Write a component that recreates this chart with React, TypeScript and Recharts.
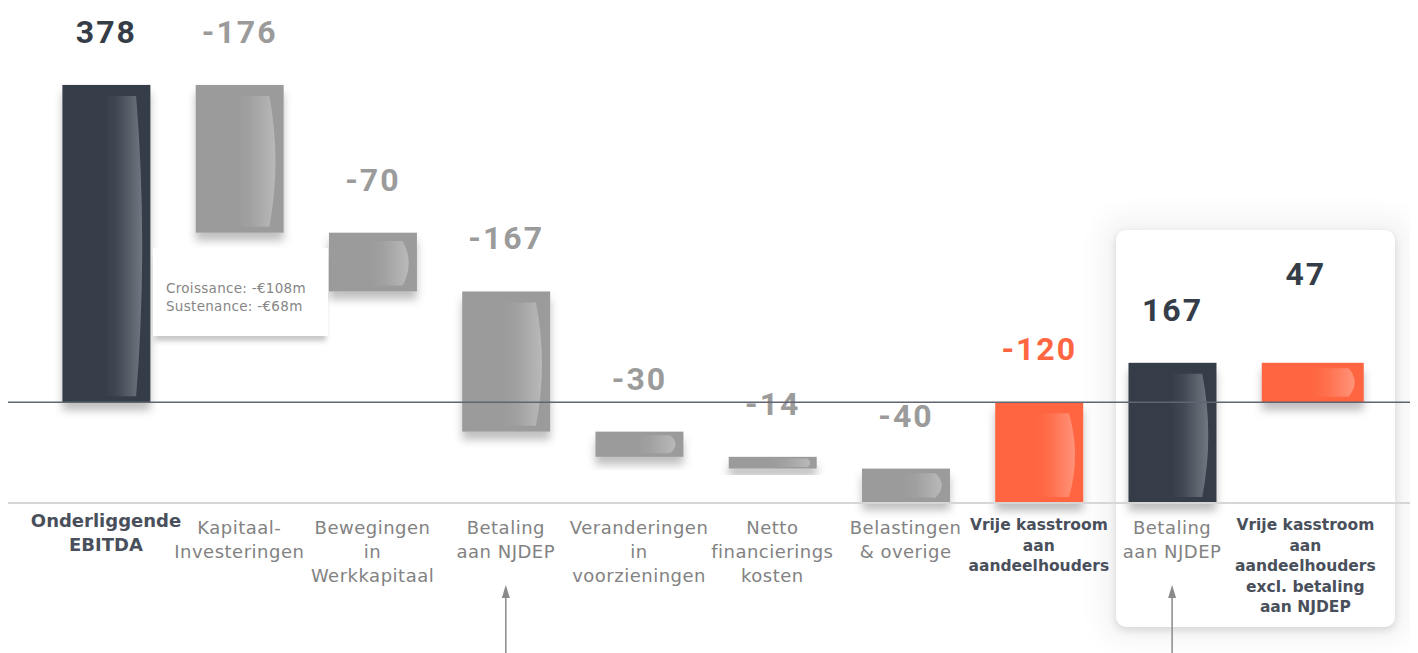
import { Bar, BarChart, ReferenceLine, XAxis, YAxis } from "recharts";

const categories = [
  "Onderliggende EBITDA",
  "Kapitaal-Investeringen",
  "Bewegingen in Werkkapitaal",
  "Betaling aan NJDEP",
  "Veranderingen in voorzieningen",
  "Netto financierings kosten",
  "Belastingen & overige",
  "Vrije kasstroom aan aandeelhouders",
  "Betaling aan NJDEP ",
  "Vrije kasstroom aan aandeelhouders excl. betaling aan NJDEP",
];

const categoryLines = [
  ["Onderliggende", "EBITDA"],
  ["Kapitaal-", "Investeringen"],
  ["Bewegingen", "in", "Werkkapitaal"],
  ["Betaling", "aan NJDEP"],
  ["Veranderingen", "in", "voorzieningen"],
  ["Netto", "financierings", "kosten"],
  ["Belastingen", "& overige"],
  ["Vrije kasstroom", "aan", "aandeelhouders"],
  ["Betaling", "aan NJDEP"],
  ["Vrije kasstroom", "aan", "aandeelhouders", "excl. betaling", "aan NJDEP"],
];

// in € m
const values = [378, -176, -70, -167, -30, -14, -40, -120, 167, 47];
const isTotal = [true, false, false, false, false, false, false, true, false, true];

const capexSplit = ["Croissance: -€108m", "Sustenance: -€68m"];
const arrowAt = [3, 8];

const DARK = "#353d48";
const GREY = "#9b9b9b";
const ORANGE = "#ff6540";
const barFill = [DARK, GREY, GREY, GREY, GREY, GREY, GREY, ORANGE, DARK, ORANGE];
const labelFill = [DARK, GREY, GREY, GREY, GREY, GREY, GREY, ORANGE, DARK, DARK];
const SANS = "'DejaVu Sans', sans-serif";

let running = 0;
const data = categories.map((name, i) => {
  const v = values[i];
  let range: [number, number];
  if (isTotal[i]) {
    range = [Math.min(0, v), Math.max(0, v)];
    running = v;
  } else {
    const next = running + v;
    range = [Math.min(running, next), Math.max(running, next)];
    running = next;
  }
  return { name, value: v, range };
});

function WaterfallBar(props: any) {
  const { x, y, width, height, index } = props;
  const top = Math.min(y, y + height);
  const h = Math.abs(height);
  const w = index === 9 ? width + 14 : width;
  const tIn = Math.min(11, h * 0.14);
  const bIn = Math.min(6, h * 0.14);
  const x0 = x + w * 0.47;
  const x1 = x + w * 0.94;
  const t = top + tIn;
  const b = top + h - bIn;
  const bow = Math.min(9, (b - t) * 0.45);
  const shine = `M ${x0} ${t} L ${x1 - bow} ${t} Q ${x1 + bow * 0.35} ${(t + b) / 2} ${x1 - bow} ${b} L ${x0} ${b} Z`;
  return (
    <g>
      <rect x={x} y={top} width={w} height={h} fill={barFill[index]} filter="url(#barShadow)" />
      {h > 4 && <path d={shine} fill="url(#barShine)" />}
      <text
        x={x + width / 2}
        y={top - (index === 9 ? 89 : 53)}
        textAnchor="middle"
        dominantBaseline="central"
        fontFamily="Roboto, sans-serif"
        fontWeight={700}
        fontSize={32}
        letterSpacing={2}
        fill={labelFill[index]}
      >
        {values[index]}
      </text>
    </g>
  );
}

function CategoryTick(props: any) {
  const { x, y, payload } = props;
  const i = payload.index;
  const lines = categoryLines[i];
  const bold = isTotal[i];
  const size = i === 0 ? 18 : bold ? 15.5 : 18;
  const gap = i === 0 ? 24 : bold ? 20.5 : 24;
  const first = i === 0 ? 17 : bold ? 22 : 24;
  return (
    <g>
      {lines.map((line, k) => (
        <text
          key={k}
          x={x}
          y={y + first + k * gap}
          textAnchor="middle"
          dominantBaseline="central"
          fontFamily={SANS}
          fontWeight={bold ? 700 : 400}
          fontSize={size}
          letterSpacing={bold ? 0 : 0.5}
          fill={bold ? "#4a505b" : "#828282"}
        >
          {line}
        </text>
      ))}
      {arrowAt.includes(i) && (
        <g>
          <line x1={x} x2={x} y1={y + 90} y2={y + 155} stroke="#8a8a8a" strokeWidth={1.5} />
          <path d={`M ${x} ${y + 82} L ${x - 4} ${y + 95} L ${x + 4} ${y + 95} Z`} fill="#8a8a8a" />
        </g>
      )}
    </g>
  );
}

export default function App() {
  return (
    <div
      style={{
        position: "relative",
        width: 1410,
        height: 645,
        overflow: "hidden",
        fontFamily: SANS,
      }}
    >
      <div
        style={{
          position: "absolute",
          left: 1108,
          top: 222,
          width: 279,
          height: 397,
          borderRadius: 10,
          background: "#fff",
          boxShadow: "0 3px 8px rgba(0,0,0,0.14), 0 0 26px 16px rgba(0,0,0,0.045)",
        }}
      />
      <BarChart
        width={1410}
        height={645}
        data={data}
        margin={{ top: 16.5, right: 46, bottom: 0, left: 31.4 }}
        barSize={88}
      >
        <defs>
          <filter id="barShadow" x="-20%" y="-20%" width="140%" height="170%">
            <feDropShadow dx="0" dy="8" stdDeviation="4" floodColor="#000" floodOpacity="0.25" />
          </filter>
          <linearGradient id="barShine" x1="0" y1="0" x2="1" y2="0">
            <stop offset="0%" stopColor="#fff" stopOpacity={0} />
            <stop offset="35%" stopColor="#fff" stopOpacity={0.06} />
            <stop offset="100%" stopColor="#fff" stopOpacity={0.3} />
          </linearGradient>
        </defs>
        <XAxis
          dataKey="name"
          axisLine={false}
          tickLine={false}
          tickSize={0}
          tickMargin={0}
          height={150}
          interval={0}
          tick={<CategoryTick />}
        />
        <YAxis hide domain={[-120, 450]} />
        <ReferenceLine
          y={-120}
          ifOverflow="visible"
          shape={(p: any) => <line x1={0} x2={1406} y1={p.y1} y2={p.y1} stroke="#d6d6d6" strokeWidth={2} />}
        />
        <Bar dataKey="range" isAnimationActive={false} shape={<WaterfallBar />} />
        <ReferenceLine
          y={0}
          ifOverflow="visible"
          shape={(p: any) => <line x1={0} x2={1406} y1={p.y1} y2={p.y1} stroke="#5f6671" strokeWidth={1.5} />}
        />
      </BarChart>
      <div
        style={{
          position: "absolute",
          left: 145,
          top: 240,
          width: 175,
          height: 88,
          background: "#fff",
          boxShadow: "0 7px 5px -2px rgba(0,0,0,0.22)",
          fontFamily: SANS,
          fontWeight: 400,
          fontSize: 13.5,
          letterSpacing: 0.3,
          lineHeight: "18px",
          color: "#868686",
          paddingLeft: 13,
          paddingTop: 31,
          boxSizing: "border-box",
          whiteSpace: "nowrap",
        }}
      >
        {capexSplit.map((t) => (
          <div key={t}>{t}</div>
        ))}
      </div>
    </div>
  );
}
